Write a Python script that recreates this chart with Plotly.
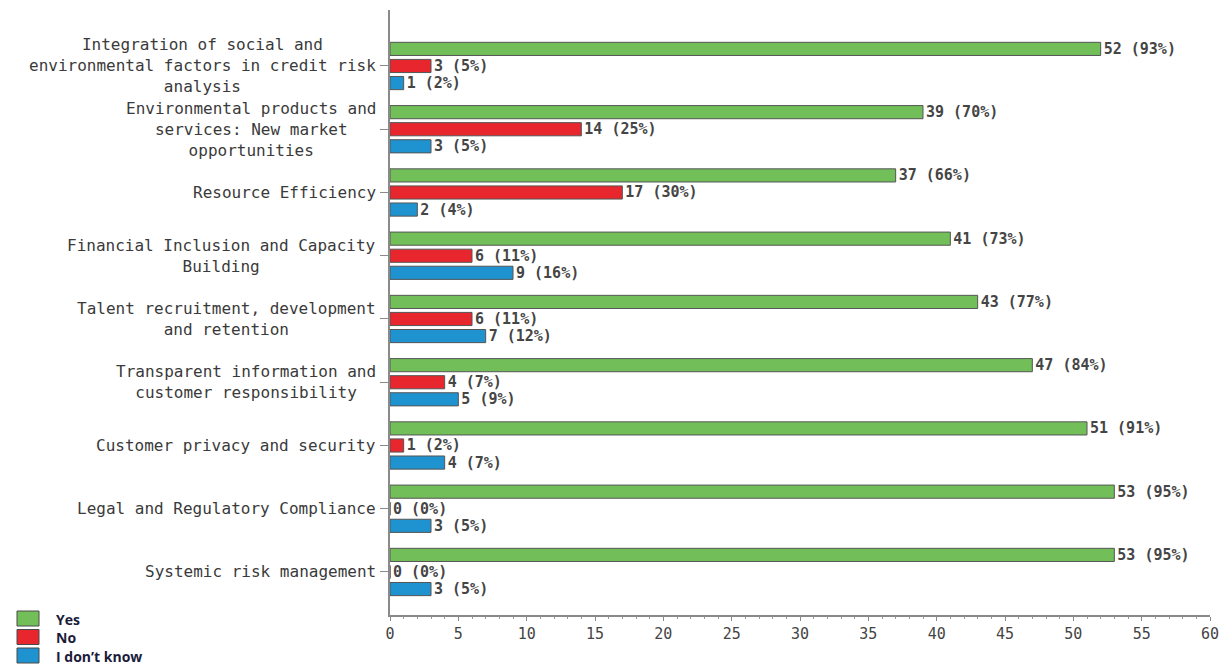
import plotly.graph_objects as go

categories = [
    "Integration of social and<br>environmental factors in credit risk<br>analysis",
    "Environmental products and<br>services: New market<br>opportunities",
    "Resource Efficiency",
    "Financial Inclusion and Capacity<br>Building",
    "Talent recruitment, development<br>and retention",
    "Transparent information and<br>customer responsibility",
    "Customer privacy and security",
    "Legal and Regulatory Compliance",
    "Systemic risk management",
]
yes_counts = [52, 39, 37, 41, 43, 47, 51, 53, 53]
yes_pct = [93, 70, 66, 73, 77, 84, 91, 95, 95]
no_counts = [3, 14, 17, 6, 6, 4, 1, 0, 0]
no_pct = [5, 25, 30, 11, 11, 7, 2, 0, 0]
idk_counts = [1, 3, 2, 9, 7, 5, 4, 3, 3]
idk_pct = [2, 5, 4, 16, 12, 9, 7, 5, 5]
x_ticks = list(range(0, 61, 5))

series_names = ["Yes", "No", "I don\u2019t know"]
series_colors = ["#72bf5a", "#e8262e", "#1f93cf"]

positions = list(range(len(categories)))

W, H = 1224, 665
M_L, M_R, M_T, M_B = 390, 14, 10, 50
plot_w = W - M_L - M_R
plot_h = H - M_T - M_B


def px_x(px):
    return (px - M_L) / plot_w


def px_y(py):
    return (H - M_B - py) / plot_h


fig = go.Figure()
for name, counts, pcts, color in zip(
    series_names,
    [yes_counts, no_counts, idk_counts],
    [yes_pct, no_pct, idk_pct],
    series_colors,
):
    fig.add_trace(go.Bar(
        name=name,
        y=positions,
        x=counts,
        orientation="h",
        marker=dict(color=color, line=dict(color="#555555", width=1)),
        text=[f"{c} ({p}%)" for c, p in zip(counts, pcts)],
        textposition="outside",
        constraintext="none",
        cliponaxis=False,
        textfont=dict(family="DejaVu Sans Mono", size=15, color="#454545",
                      weight="bold"),
        showlegend=False,
    ))

# Category labels: centred multi-line blocks left of the axis
for pos, label in zip(positions, categories):
    fig.add_annotation(
        x=0, y=pos, xref="x", yref="y",
        text=label, showarrow=False,
        xanchor="right", yanchor="middle", align="center",
        xshift=-12,
        font=dict(family="DejaVu Sans Mono", size=16, color="#3a3a3a"),
    )

# Legend block in the lower-left corner
legend_top = 611
legend_step = 18.5
for i, (name, color) in enumerate(zip(series_names, series_colors)):
    top = legend_top + i * legend_step
    fig.add_shape(
        type="rect", xref="paper", yref="paper",
        x0=px_x(17), x1=px_x(39), y0=px_y(top), y1=px_y(top + 15),
        fillcolor=color, line=dict(color="#4a4a4a", width=1),
    )
    fig.add_annotation(
        x=px_x(54), y=px_y(top + 8), xref="paper", yref="paper",
        text=name, showarrow=False, xanchor="left", yanchor="middle",
        font=dict(family="Open Sans", size=14, color="#1b1b3a", weight="bold"),
    )

fig.update_layout(
    width=W, height=H,
    margin=dict(l=M_L, r=M_R, t=M_T, b=M_B, autoexpand=False),
    paper_bgcolor="white", plot_bgcolor="white",
    barmode="group",
    bargap=0.19,
    bargroupgap=0.23,
    showlegend=False,
    font=dict(family="DejaVu Sans Mono", color="#444444"),
)

fig.update_xaxes(
    range=[0, 60],
    tickvals=x_ticks,
    ticktext=[str(t) for t in x_ticks],
    showgrid=False, zeroline=False,
    showline=True, linecolor="#8a8a8a", linewidth=1.5,
    ticks="outside", ticklen=4, tickcolor="#8a8a8a",
    minor=dict(dtick=1, ticks="outside", ticklen=2, tickcolor="#9a9a9a"),
    tickfont=dict(family="DejaVu Sans Mono", size=15, color="#444444"),
)
fig.update_yaxes(
    range=[8.68, -0.885],
    tickvals=positions,
    showticklabels=False,
    showgrid=False, zeroline=False,
    showline=True, linecolor="#8a8a8a", linewidth=1.5,
    ticks="outside", ticklen=8, tickcolor="#8a8a8a",
)

fig.write_html("out.html")
